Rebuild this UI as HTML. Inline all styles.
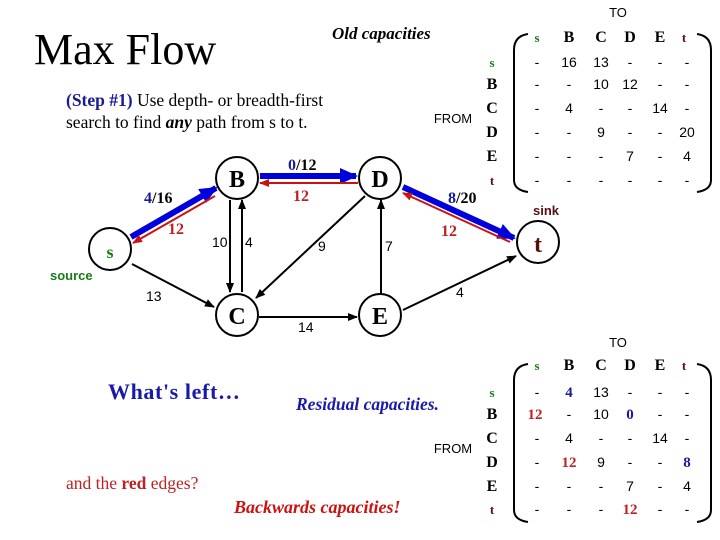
<!DOCTYPE html>
<html><head><meta charset="utf-8"><style>
html,body{margin:0;padding:0;background:#fff;}
svg{display:block;}
.sf{font-family:"Liberation Serif",serif;}
.ss{font-family:"Liberation Sans",sans-serif;}
</style></head><body>
<svg width="720" height="540" viewBox="0 0 720 540" xmlns="http://www.w3.org/2000/svg">
<defs>
<marker id="ak" markerWidth="10" markerHeight="8" refX="9" refY="4" orient="auto" markerUnits="userSpaceOnUse"><path d="M0,0 L10,4 L0,8 z" fill="#000"/></marker>
<marker id="ar" markerWidth="10" markerHeight="8" refX="9" refY="4" orient="auto" markerUnits="userSpaceOnUse"><path d="M0,0 L10,4 L0,8 z" fill="#cc1111"/></marker>
<marker id="ab" markerWidth="18" markerHeight="16" refX="16" refY="8" orient="auto" markerUnits="userSpaceOnUse"><path d="M0,0 L18,8 L0,16 z" fill="#0000dd"/></marker>
</defs>
<text x="34" y="64" class="sf" font-size="44">Max Flow</text>
<text x="332" y="39" class="sf" font-size="17" font-weight="bold" font-style="italic">Old capacities</text>
<text x="66" y="106" class="sf" font-size="17.5"><tspan fill="#1a1a99" font-weight="bold">(Step #1)</tspan> Use depth- or breadth-first</text>
<text x="66" y="128" class="sf" font-size="17.5">search to find <tspan font-weight="bold" font-style="italic">any</tspan> path from s to t.</text>

<!-- edges -->
<line x1="131" y1="237" x2="216" y2="188" stroke="#0000dd" stroke-width="6" marker-end="url(#ab)"/>
<line x1="215" y1="196" x2="133" y2="243" stroke="#cc1111" stroke-width="2" marker-end="url(#ar)"/>
<line x1="260" y1="176" x2="356" y2="176" stroke="#0000dd" stroke-width="6" marker-end="url(#ab)"/>
<line x1="358" y1="183" x2="260" y2="183" stroke="#cc1111" stroke-width="2" marker-end="url(#ar)"/>
<line x1="403" y1="187" x2="514" y2="238" stroke="#0000dd" stroke-width="6" marker-end="url(#ab)"/>
<line x1="510" y1="242" x2="403" y2="193" stroke="#cc1111" stroke-width="2" marker-end="url(#ar)"/>
<line x1="230" y1="200" x2="230" y2="292" stroke="#000" stroke-width="2" marker-end="url(#ak)"/>
<line x1="242" y1="292" x2="242" y2="200" stroke="#000" stroke-width="2" marker-end="url(#ak)"/>
<line x1="132" y1="264" x2="214" y2="307" stroke="#000" stroke-width="2" marker-end="url(#ak)"/>
<line x1="365" y1="196" x2="256" y2="298" stroke="#000" stroke-width="2" marker-end="url(#ak)"/>
<line x1="259" y1="317" x2="357" y2="317" stroke="#000" stroke-width="2" marker-end="url(#ak)"/>
<line x1="381" y1="294" x2="381" y2="200" stroke="#000" stroke-width="2" marker-end="url(#ak)"/>
<line x1="403" y1="310" x2="516" y2="256" stroke="#000" stroke-width="2" marker-end="url(#ak)"/>

<!-- nodes -->
<g fill="#fff" stroke="#000" stroke-width="2">
<circle cx="110" cy="249" r="21"/><circle cx="237" cy="178" r="21"/><circle cx="380" cy="178" r="21"/>
<circle cx="237" cy="315" r="21"/><circle cx="380" cy="315" r="21"/><circle cx="538" cy="242" r="21"/>
</g>
<g class="sf" font-weight="bold" text-anchor="middle">
<text x="110" y="258" font-size="18" fill="#1a7a1a">s</text>
<text x="237" y="187" font-size="24">B</text>
<text x="380" y="187" font-size="24">D</text>
<text x="237" y="324" font-size="24">C</text>
<text x="380" y="324" font-size="24">E</text>
<text x="538" y="252" font-size="24" fill="#5a0f0f">t</text>
</g>
<text x="50" y="280" class="ss" font-size="13" font-weight="bold" fill="#1a7a1a">source</text>
<text x="533" y="215" class="ss" font-size="13" font-weight="bold" fill="#5a0f0f">sink</text>

<!-- edge labels -->
<g class="sf" font-size="16" font-weight="bold">
<text x="144" y="203"><tspan fill="#1a1a99">4</tspan>/16</text>
<text x="168" y="234" fill="#b22">12</text>
<text x="288" y="170"><tspan fill="#1a1a99">0</tspan>/12</text>
<text x="293" y="201" fill="#b22">12</text>
<text x="448" y="203"><tspan fill="#1a1a99">8</tspan>/20</text>
<text x="441" y="236" fill="#b22">12</text>
</g>
<g class="ss" font-size="14">
<text x="212" y="247">10</text><text x="245" y="247">4</text>
<text x="146" y="301">13</text><text x="318" y="251">9</text>
<text x="385" y="251">7</text><text x="298" y="332">14</text><text x="456" y="297">4</text>
</g>

<!-- matrices -->
<g>
<text x="618" y="17" class="ss" font-size="13" text-anchor="middle">TO</text>
<text x="453" y="123" class="ss" font-size="13" text-anchor="middle">FROM</text>
<path d="M528,34 Q514,36 514,50 L514,180 Q514,190 528,192" fill="none" stroke="#000" stroke-width="2"/>
<path d="M697,34 Q711,36 711,50 L711,180 Q711,190 697,192" fill="none" stroke="#000" stroke-width="2"/>
<g class="sf" font-weight="bold" text-anchor="middle" font-size="16">
<text x="537" y="42" fill="#1a7a1a" font-size="13">s</text><text x="569" y="42">B</text><text x="601" y="42">C</text><text x="630" y="42">D</text><text x="660" y="42">E</text><text x="684" y="42" fill="#5a0f0f" font-size="13">t</text>
<text x="492" y="67" fill="#1a7a1a" font-size="13">s</text><text x="492" y="89">B</text><text x="492" y="113">C</text><text x="492" y="137">D</text><text x="492" y="161">E</text><text x="492" y="185" fill="#5a0f0f" font-size="13">t</text>
</g>
<g class="ss" font-size="14" text-anchor="middle">
<text x="537" y="67">-</text><text x="569" y="67">16</text><text x="601" y="67">13</text><text x="630" y="67">-</text><text x="660" y="67">-</text><text x="687" y="67">-</text>
<text x="537" y="89">-</text><text x="569" y="89">-</text><text x="601" y="89">10</text><text x="630" y="89">12</text><text x="660" y="89">-</text><text x="687" y="89">-</text>
<text x="537" y="113">-</text><text x="569" y="113">4</text><text x="601" y="113">-</text><text x="630" y="113">-</text><text x="660" y="113">14</text><text x="687" y="113">-</text>
<text x="537" y="137">-</text><text x="569" y="137">-</text><text x="601" y="137">9</text><text x="630" y="137">-</text><text x="660" y="137">-</text><text x="687" y="137">20</text>
<text x="537" y="161">-</text><text x="569" y="161">-</text><text x="601" y="161">-</text><text x="630" y="161">7</text><text x="660" y="161">-</text><text x="687" y="161">4</text>
<text x="537" y="185">-</text><text x="569" y="185">-</text><text x="601" y="185">-</text><text x="630" y="185">-</text><text x="660" y="185">-</text><text x="687" y="185">-</text>
</g>
</g>

<g>
<text x="618" y="347" class="ss" font-size="13" text-anchor="middle">TO</text>
<text x="453" y="453" class="ss" font-size="13" text-anchor="middle">FROM</text>
<path d="M528,364 Q514,366 514,380 L514,510 Q514,520 528,522" fill="none" stroke="#000" stroke-width="2"/>
<path d="M697,364 Q711,366 711,380 L711,510 Q711,520 697,522" fill="none" stroke="#000" stroke-width="2"/>
<g class="sf" font-weight="bold" text-anchor="middle" font-size="16">
<text x="537" y="370" fill="#1a7a1a" font-size="13">s</text><text x="569" y="370">B</text><text x="601" y="370">C</text><text x="630" y="370">D</text><text x="660" y="370">E</text><text x="684" y="370" fill="#5a0f0f" font-size="13">t</text>
<text x="492" y="397" fill="#1a7a1a" font-size="13">s</text><text x="492" y="419">B</text><text x="492" y="443">C</text><text x="492" y="467">D</text><text x="492" y="491">E</text><text x="492" y="514" fill="#5a0f0f" font-size="13">t</text>
</g>
<g class="ss" font-size="14" text-anchor="middle">
<text x="537" y="397">-</text><text x="569" y="397" class="sf" font-weight="bold" fill="#1a1a99" font-size="15">4</text><text x="601" y="397">13</text><text x="630" y="397">-</text><text x="660" y="397">-</text><text x="687" y="397">-</text>
<text x="535" y="419" class="sf" font-weight="bold" fill="#b22" font-size="15">12</text><text x="569" y="419">-</text><text x="601" y="419">10</text><text x="630" y="419" class="sf" font-weight="bold" fill="#1a1a99" font-size="15">0</text><text x="660" y="419">-</text><text x="687" y="419">-</text>
<text x="537" y="443">-</text><text x="569" y="443">4</text><text x="601" y="443">-</text><text x="630" y="443">-</text><text x="660" y="443">14</text><text x="687" y="443">-</text>
<text x="537" y="467">-</text><text x="569" y="467" class="sf" font-weight="bold" fill="#b22" font-size="15">12</text><text x="601" y="467">9</text><text x="630" y="467">-</text><text x="660" y="467">-</text><text x="687" y="467" class="sf" font-weight="bold" fill="#1a1a99" font-size="15">8</text>
<text x="537" y="491">-</text><text x="569" y="491">-</text><text x="601" y="491">-</text><text x="630" y="491">7</text><text x="660" y="491">-</text><text x="687" y="491">4</text>
<text x="537" y="514">-</text><text x="569" y="514">-</text><text x="601" y="514">-</text><text x="630" y="514" class="sf" font-weight="bold" fill="#b22" font-size="15">12</text><text x="660" y="514">-</text><text x="687" y="514">-</text>
</g>
</g>

<text x="108" y="399" class="sf" font-size="22" font-weight="bold" fill="#1a1aaa" letter-spacing="0.6">What's left…</text>
<text x="296" y="410" class="sf" font-size="17.5" font-weight="bold" font-style="italic" fill="#1a1aaa">Residual capacities.</text>
<text x="66" y="489" class="sf" font-size="17.5" fill="#b22">and the <tspan font-weight="bold">red</tspan> edges?</text>
<text x="234" y="513" class="sf" font-size="18" font-weight="bold" font-style="italic" fill="#c11">Backwards capacities!</text>
</svg>
</body></html>
